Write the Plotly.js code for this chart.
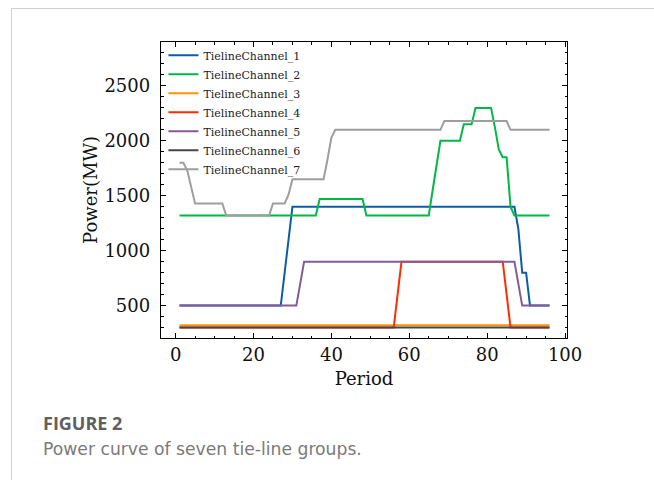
<!DOCTYPE html>
<html>
<head>
<meta charset="utf-8">
<script src="https://cdn.plot.ly/plotly-3.0.1.min.js"></script>
<style>
  html, body { margin: 0; padding: 0; background: #ffffff; }
  #wrap { position: relative; width: 654px; height: 480px; overflow: hidden; }
  #chart { position: absolute; left: 0; top: 0; width: 654px; height: 480px; }
  #card { position: absolute; left: 11px; top: 8px; width: 700px; height: 520px;
          border: 1px solid #d0d0d0; box-sizing: border-box; pointer-events: none; }
</style>
</head>
<body>
<div id="wrap">
  <div id="chart"></div>
  <div id="card"></div>
</div>
<script>
// ---------- data ----------
const periods = [
  1,2,3,4,5,6,7,8,9,10,
  11,12,13,14,15,16,17,18,19,20,
  21,22,23,24,25,26,27,28,29,30,
  31,32,33,34,35,36,37,38,39,40,
  41,42,43,44,45,46,47,48,49,50,
  51,52,53,54,55,56,57,58,59,60,
  61,62,63,64,65,66,67,68,69,70,
  71,72,73,74,75,76,77,78,79,80,
  81,82,83,84,85,86,87,88,89,90,
  91,92,93,94,95,96
];

const seriesNames = [
  "TielineChannel_1","TielineChannel_2","TielineChannel_3","TielineChannel_4",
  "TielineChannel_5","TielineChannel_6","TielineChannel_7"
];

const channel1 = [
  500,500,500,500,500,500,500,500,500,500,
  500,500,500,500,500,500,500,500,500,500,
  500,500,500,500,500,500,500,800,1100,1400,
  1400,1400,1400,1400,1400,1400,1400,1400,1400,1400,
  1400,1400,1400,1400,1400,1400,1400,1400,1400,1400,
  1400,1400,1400,1400,1400,1400,1400,1400,1400,1400,
  1400,1400,1400,1400,1400,1400,1400,1400,1400,1400,
  1400,1400,1400,1400,1400,1400,1400,1400,1400,1400,
  1400,1400,1400,1400,1400,1400,1400,1200,800,800,
  500,500,500,500,500,500
];

const channel2 = [
  1320,1320,1320,1320,1320,1320,1320,1320,1320,1320,
  1320,1320,1320,1320,1320,1320,1320,1320,1320,1320,
  1320,1320,1320,1320,1320,1320,1320,1320,1320,1320,
  1320,1320,1320,1320,1320,1320,1470,1470,1470,1470,
  1470,1470,1470,1470,1470,1470,1470,1470,1320,1320,
  1320,1320,1320,1320,1320,1320,1320,1320,1320,1320,
  1320,1320,1320,1320,1320,1550,1780,2000,2000,2000,
  2000,2000,2000,2150,2150,2150,2300,2300,2300,2300,
  2300,2120,1920,1850,1850,1400,1320,1320,1320,1320,
  1320,1320,1320,1320,1320,1320
];

const channel3 = [
  320,320,320,320,320,320,320,320,320,320,
  320,320,320,320,320,320,320,320,320,320,
  320,320,320,320,320,320,320,320,320,320,
  320,320,320,320,320,320,320,320,320,320,
  320,320,320,320,320,320,320,320,320,320,
  320,320,320,320,320,320,320,320,320,320,
  320,320,320,320,320,320,320,320,320,320,
  320,320,320,320,320,320,320,320,320,320,
  320,320,320,320,320,320,320,320,320,320,
  320,320,320,320,320,320
];

const channel4 = [
  300,300,300,300,300,300,300,300,300,300,
  300,300,300,300,300,300,300,300,300,300,
  300,300,300,300,300,300,300,300,300,300,
  300,300,300,300,300,300,300,300,300,300,
  300,300,300,300,300,300,300,300,300,300,
  300,300,300,300,300,300,600,900,900,900,
  900,900,900,900,900,900,900,900,900,900,
  900,900,900,900,900,900,900,900,900,900,
  900,900,900,900,600,300,300,300,300,300,
  300,300,300,300,300,300
];

const channel5 = [
  500,500,500,500,500,500,500,500,500,500,
  500,500,500,500,500,500,500,500,500,500,
  500,500,500,500,500,500,500,500,500,500,
  500,700,900,900,900,900,900,900,900,900,
  900,900,900,900,900,900,900,900,900,900,
  900,900,900,900,900,900,900,900,900,900,
  900,900,900,900,900,900,900,900,900,900,
  900,900,900,900,900,900,900,900,900,900,
  900,900,900,900,900,900,900,700,500,500,
  500,500,500,500,500,500
];

const channel6 = [
  300,300,300,300,300,300,300,300,300,300,
  300,300,300,300,300,300,300,300,300,300,
  300,300,300,300,300,300,300,300,300,300,
  300,300,300,300,300,300,300,300,300,300,
  300,300,300,300,300,300,300,300,300,300,
  300,300,300,300,300,300,300,300,300,300,
  300,300,300,300,300,300,300,300,300,300,
  300,300,300,300,300,300,300,300,300,300,
  300,300,300,300,300,300,300,300,300,300,
  300,300,300,300,300,300
];

const channel7 = [
  1800,1800,1730,1580,1430,1430,1430,1430,1430,1430,
  1430,1430,1320,1320,1320,1320,1320,1320,1320,1320,
  1320,1320,1320,1320,1430,1430,1430,1430,1510,1650,
  1650,1650,1650,1650,1650,1650,1650,1650,1830,2030,
  2100,2100,2100,2100,2100,2100,2100,2100,2100,2100,
  2100,2100,2100,2100,2100,2100,2100,2100,2100,2100,
  2100,2100,2100,2100,2100,2100,2100,2100,2180,2180,
  2180,2180,2180,2180,2180,2180,2180,2180,2180,2180,
  2180,2180,2180,2180,2180,2100,2100,2100,2100,2100,
  2100,2100,2100,2100,2100,2100
];

const xTickVals = [0, 20, 40, 60, 80, 100];
const yTickVals = [500, 1000, 1500, 2000, 2500];
const xTitle = "Period";
const yTitle = "Power(MW)";
const figLabel = "FIGURE 2";
const figCaption = "Power curve of seven tie-line groups.";

// ---------- styling ----------
const colors = ["#0C5DA5", "#00B945", "#FF9500", "#FF2C00", "#845B97", "#474747", "#9e9e9e"];
const allSeries = [channel1, channel2, channel3, channel4, channel5, channel6, channel7];

const traces = allSeries.map((ys, i) => ({
  type: "scatter",
  mode: "lines",
  x: periods,
  y: ys,
  name: seriesNames[i],
  line: { color: colors[i], width: 2 },
  hoverinfo: "x+y+name"
}));

const serif = "DejaVu Serif, Liberation Serif, serif";

const axisCommon = {
  showline: true,
  linecolor: "#000",
  linewidth: 1.2,
  mirror: "allticks",
  ticks: "inside",
  ticklen: 5,
  tickwidth: 1,
  tickcolor: "#000",
  showgrid: false,
  zeroline: false,
  tickfont: { family: serif, size: 18, color: "#111" }
};

const layout = {
  width: 654,
  height: 480,
  margin: { l: 161, r: 87, t: 42, b: 142, pad: 0 },
  paper_bgcolor: "rgba(0,0,0,0)",
  plot_bgcolor: "#fff",
  font: { family: serif, color: "#111" },
  showlegend: true,
  legend: {
    x: 0.006, y: 1.004, xanchor: "left", yanchor: "top",
    bgcolor: "rgba(0,0,0,0)",
    borderwidth: 0,
    font: { family: serif, size: 11, color: "#222" },
    tracegroupgap: 0,
    itemwidth: 30
  },
  xaxis: Object.assign({}, axisCommon, {
    range: [-3.75, 100.5],
    tickmode: "array",
    tickvals: xTickVals,
    ticktext: xTickVals.map(String),
    minor: { dtick: 5, tick0: 0, ticks: "inside", ticklen: 2.5, tickwidth: 1, tickcolor: "#000", showgrid: false },
    ticklabelstandoff: 0,
    title: { text: xTitle, font: { family: serif, size: 18, color: "#111" }, standoff: 8 }
  }),
  yaxis: Object.assign({}, axisCommon, {
    range: [205, 2900],
    tickmode: "array",
    tickvals: yTickVals,
    ticktext: yTickVals.map(String),
    minor: { dtick: 100, tick0: 0, ticks: "inside", ticklen: 2.5, tickwidth: 1, tickcolor: "#000", showgrid: false },
    ticklabelstandoff: 6,
    title: { text: yTitle, font: { family: serif, size: 18, color: "#111" }, standoff: 2 }
  }),
  annotations: [
    {
      xref: "paper", yref: "paper",
      x: -0.296, y: -0.287, xanchor: "left", yanchor: "middle",
      text: "<b>" + figLabel + "</b>", showarrow: false,
      font: { family: "Open Sans, Noto Sans, sans-serif", size: 18, color: "#5f5f5f" }
    },
    {
      xref: "paper", yref: "paper",
      x: -0.296, y: -0.375, xanchor: "left", yanchor: "middle",
      text: figCaption, showarrow: false,
      font: { family: "DejaVu Sans, Open Sans, sans-serif", size: 17.2, color: "#7a7a7a" }
    }
  ]
};

Plotly.newPlot("chart", traces, layout, { displayModeBar: false, staticPlot: true });
</script>
</body>
</html>
